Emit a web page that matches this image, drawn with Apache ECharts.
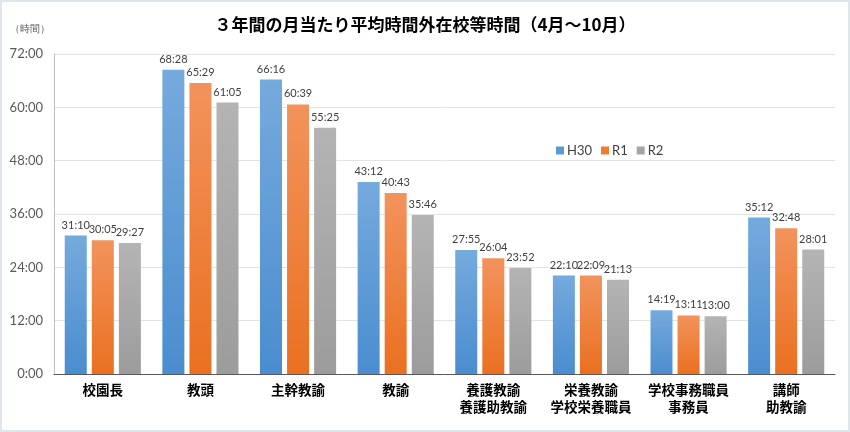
<!DOCTYPE html>
<html><head><meta charset="utf-8">
<script src="https://cdn.jsdelivr.net/npm/echarts@6/dist/echarts.min.js"></script>
<style>
html,body{margin:0;padding:0;background:#fff;}
#c{width:850px;height:432px;box-sizing:border-box;border:2px solid #dfe6ee;}
</style></head>
<body><div id="c"></div>
<script>
const categories = ["校園長","教頭","主幹教諭","教諭","養護教諭\n養護助教諭","栄養教諭\n学校栄養職員","学校事務職員\n事務員","講師\n助教諭"];
const seriesNames = ["H30","R1","R2"];
const h30 = ["31:10","68:28","66:16","43:12","27:55","22:10","14:19","35:12"];
const r1  = ["30:05","65:29","60:39","40:43","26:04","22:09","13:11","32:48"];
const r2  = ["29:27","61:05","55:25","35:46","23:52","21:13","13:00","28:01"];
const yTicks = ["0:00","12:00","24:00","36:00","48:00","60:00","72:00"];

function toHours(s){const p=s.split(':');return +p[0]+(+p[1])/60;}

const colors = [["#75aadd","#4a8dcf"],["#f2935c","#ea7020"],["#b4b4b4","#9c9c9c"]];
const legendColors = ["#5b9bd5","#ed7d31","#a5a5a5"];
const chart = echarts.init(document.getElementById('c'));
const font = "Lato, 'Noto Sans CJK JP', sans-serif";
const raw = [h30,r1,r2];
chart.setOption({
  animation:false,
  title:{text:'３年間の月当たり平均時間外在校等時間（4月～10月）',left:'center',top:9,
    textStyle:{fontSize:17,fontWeight:'bold',color:'#000',fontFamily:"'Noto Sans CJK JP', sans-serif"}},
  graphic:[{type:'text',left:8,top:22,style:{text:'（時間）',fontSize:10,fill:'#595959',font:"10px 'Noto Sans CJK JP'"}}],
  legend:{left:549,top:137,itemWidth:8,itemHeight:8,itemGap:9,icon:'rect',
    textStyle:{fontSize:13,color:'#404040',fontFamily:font,padding:[0,0,0,-2]},
    data:seriesNames.map((n,i)=>({name:n,itemStyle:{color:legendColors[i]}}))},
  grid:{left:52,right:13,top:52,bottom:56,containLabel:false},
  xAxis:{type:'category',data:categories,
    axisLine:{lineStyle:{color:'#595959',width:1}},axisTick:{show:false},
    axisLabel:{fontSize:13.5,fontWeight:'bold',color:'#000',lineHeight:17,margin:7,interval:0,fontFamily:"'Noto Sans CJK JP', sans-serif"}},
  yAxis:{type:'value',min:0,max:72,interval:12,
    axisLine:{show:true,lineStyle:{color:'#bfbfbf'}},axisTick:{show:false},
    splitLine:{lineStyle:{color:'#e3e3e3'}},
    axisLabel:{fontSize:13,color:'#595959',margin:11,fontFamily:font,
      formatter:(v)=>yTicks[Math.round(v/12)]}},
  series:raw.map((arr,i)=>({
    name:seriesNames[i],type:'bar',barWidth:22,barGap:'23%',
    data:arr.map(toHours),
    itemStyle:{color:new echarts.graphic.LinearGradient(0,0,0,1,[{offset:0,color:colors[i][0]},{offset:1,color:colors[i][1]}])},
    label:{show:true,position:'top',distance:5,fontSize:11,color:'#404040',fontFamily:font,
      formatter:(p)=>arr[p.dataIndex]}
  }))
});
</script></body></html>
